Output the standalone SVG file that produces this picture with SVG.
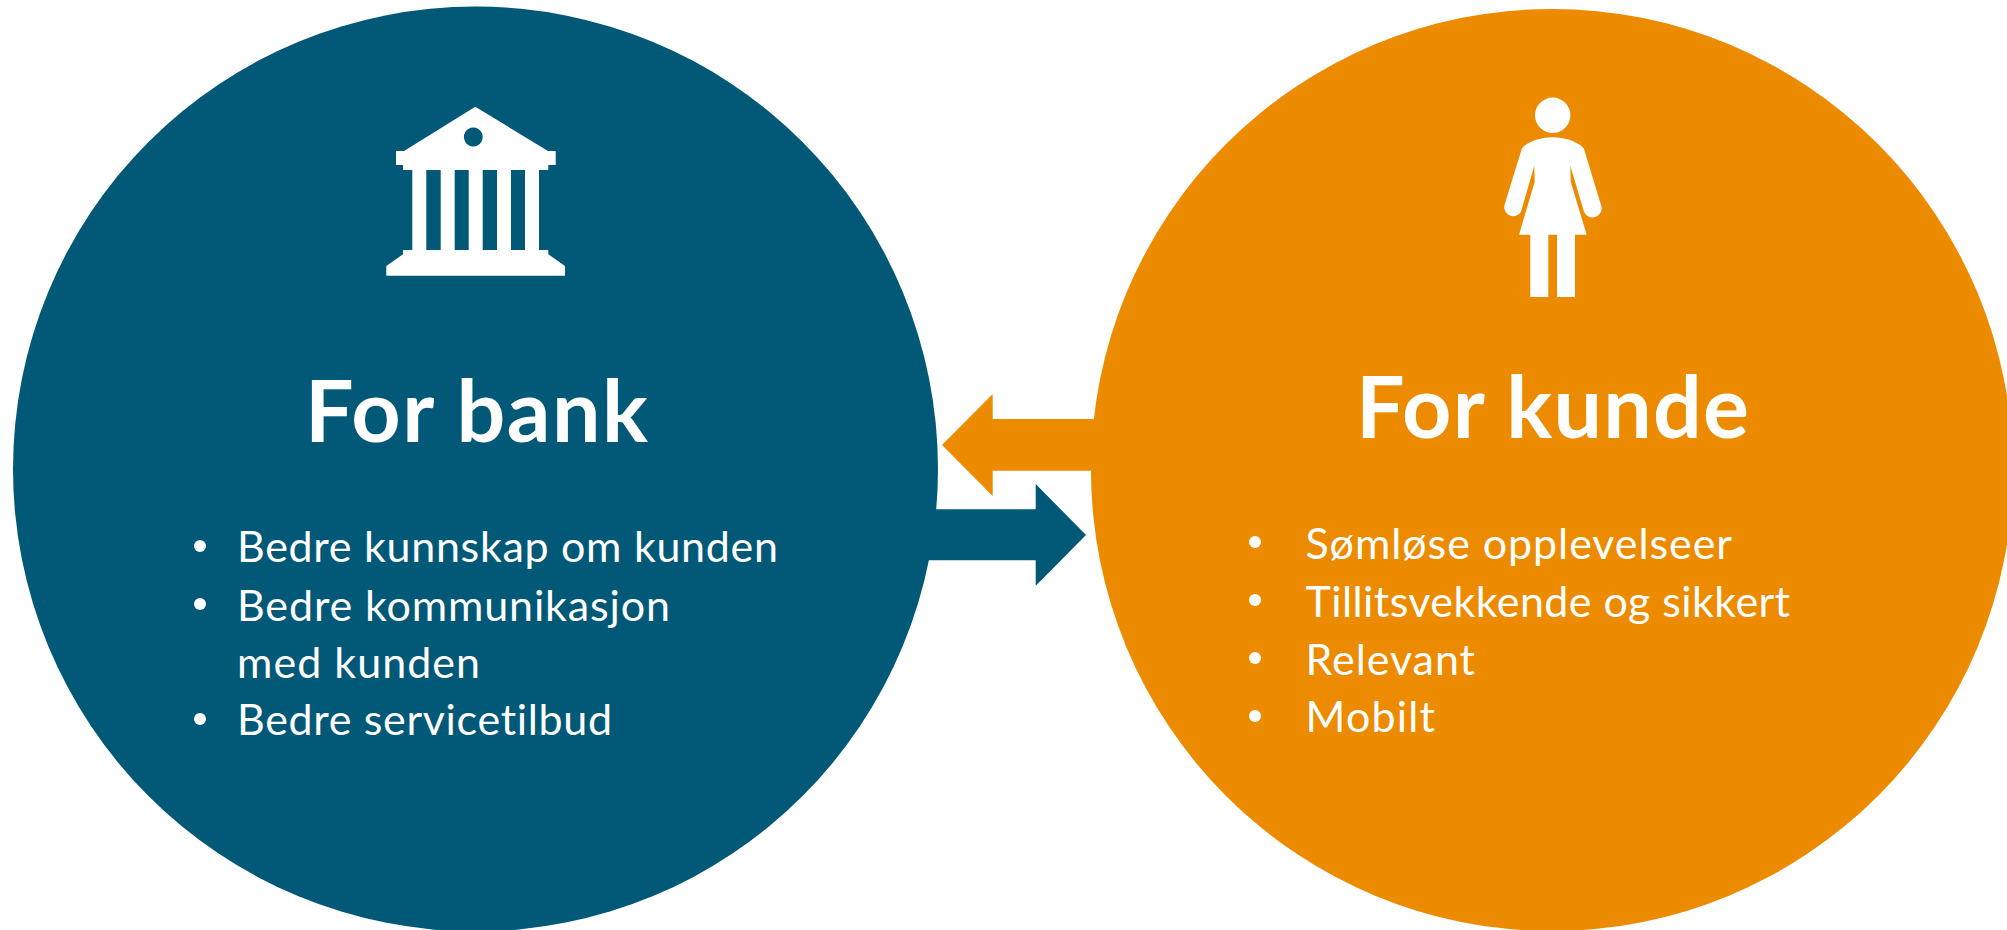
<svg xmlns="http://www.w3.org/2000/svg" width="2007" height="930" viewBox="0 0 2007 930">
<style>
text{font-family:"Lato","Carlito","Liberation Sans",sans-serif;fill:#fff;font-variant-ligatures:none}
.h{font-weight:700;font-size:86px}
.b{font-size:43px}
.w{fill:#fff}
</style>
<rect width="2007" height="930" fill="#fff"/>
<g id="connectors">
<path fill="#015877" d="M925 509.3H1035.7V484L1086 535L1035.7 585.700V560.300H925Z"/>
<path fill="#ed8b00" d="M1110 419H992.7V394L942 445L992.7 496V470.7H1110Z"/>
</g>
<g id="bank">
<circle cx="475.5" cy="469" r="462.5" fill="#015877"/>
<g id="bank-icon" class="w">
<path fill-rule="evenodd" d="M475.300 106.700L548 151H555.700V165H548.300V170H403V165H396V151H404ZM473.300 127.600a9.400 9.400 0 1 0 .01 0Z"/>
<rect x="412.300" y="170" width="14" height="81"/>
<rect x="440.700" y="170" width="14" height="81"/>
<rect x="468.700" y="170" width="14" height="81"/>
<rect x="497" y="170" width="14" height="81"/>
<rect x="525" y="170" width="14" height="81"/>
<path d="M403 250H548.300V254.300L565 266V275.700H386.300V266L403 254.300Z"/>
</g>
<text class="h" x="305" y="441.700" textLength="343" lengthAdjust="spacing">For bank</text>
<circle class="w" cx="200" cy="546" r="6"/>
<circle class="w" cx="200" cy="604" r="6"/>
<circle class="w" cx="200" cy="719" r="6"/>
<text class="b" x="237" y="562" textLength="541" lengthAdjust="spacing">Bedre kunnskap om kunden</text>
<text class="b" x="237" y="620.700" textLength="433" lengthAdjust="spacing">Bedre kommunikasjon</text>
<text class="b" x="237" y="678" textLength="243" lengthAdjust="spacing">med kunden</text>
<text class="b" x="237" y="735" textLength="375" lengthAdjust="spacing">Bedre servicetilbud</text>
</g>
<g id="kunde">
<circle cx="1552" cy="470" r="461" fill="#ed8b00"/>
<g id="kunde-icon" class="w">
<circle cx="1552.700" cy="115.300" r="17.700"/>
<path d="M1552.700 137.300C1540 137.300 1529 142 1524 146Q1522.500 147.500 1521.700 149L1504.500 205A9 9 0 0 0 1521 211.700L1534.300 165.700L1534.700 181.700L1519 234.700H1530.300V297H1548.300V234.700H1557V297H1575V234.700H1586.700L1570.700 181.700L1570.300 165.700L1584 211.700A9 9 0 0 0 1601 205L1584 149Q1583 147.500 1581.500 146C1576.500 142 1565.500 137.300 1552.700 137.300Z"/>
</g>
<text class="h" x="1356" y="438.300" textLength="393" lengthAdjust="spacing">For kunde</text>
<circle class="w" cx="1255" cy="542" r="6"/>
<circle class="w" cx="1255" cy="600" r="6"/>
<circle class="w" cx="1255" cy="658" r="6"/>
<circle class="w" cx="1255" cy="716" r="6"/>
<text class="b" x="1305.500" y="559.300" textLength="426.500" lengthAdjust="spacing">Sømløse opplevelseer</text>
<text class="b" x="1305.500" y="617.300" textLength="484.500" lengthAdjust="spacing">Tillitsvekkende og sikkert</text>
<text class="b" x="1305.500" y="675" textLength="169.500" lengthAdjust="spacing">Relevant</text>
<text class="b" x="1305.500" y="732.300" textLength="129.500" lengthAdjust="spacing">Mobilt</text>
</g>
</svg>
